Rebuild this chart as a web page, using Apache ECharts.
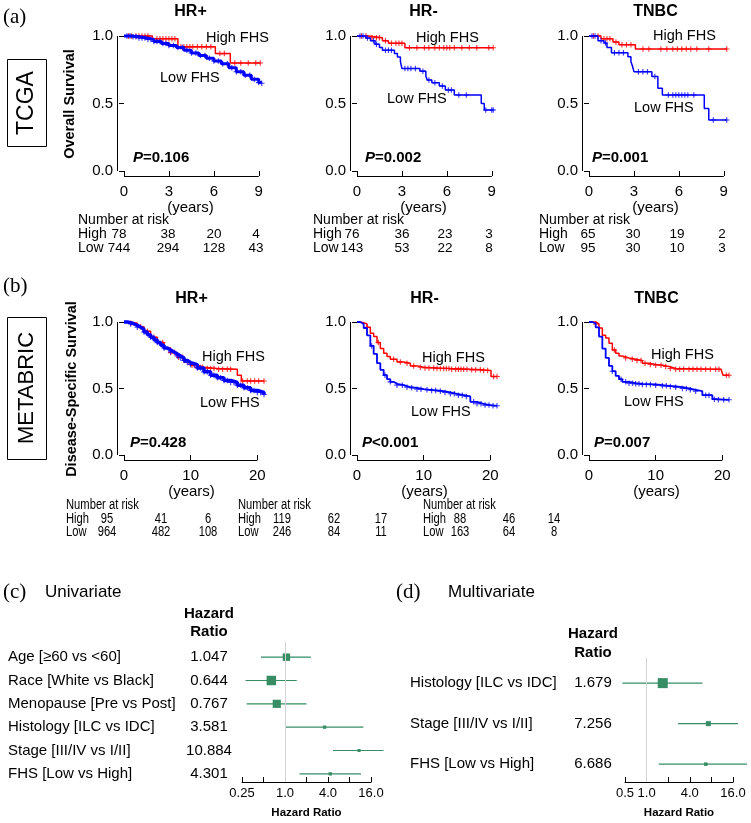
<!DOCTYPE html>
<html>
<head>
<meta charset="utf-8">
<script src="https://cdn.jsdelivr.net/npm/echarts@6/dist/echarts.min.js"></script>
<style>
  html, body { margin: 0; padding: 0; background: #fff; }
  #chart { width: 751px; height: 823px; }
</style>
</head>
<body>
<div id="chart"></div>
<script>
const SANS = '"Liberation Sans", Arial, Helvetica, sans-serif';
const SERIF = '"Liberation Serif", "Times New Roman", serif';
const RED = '#ff0000';
const BLUE = '#0000ff';
const GREEN = '#378d64';

// (a) TCGA overall survival, KM steps as [years, survival]
const tcgaPosHigh = [[0,1],[1.9,0.98],[3.6,0.92],[6.1,0.87],[7.1,0.80],[9.1,0.80]];
const tcgaPosLow = [[0,1],[0.5,0.995],[1,0.985],[1.5,0.975],[2,0.96],[2.5,0.945],[3,0.93],[3.5,0.915],[4,0.895],[4.5,0.875],[5,0.855],[5.5,0.835],[6,0.815],[6.5,0.795],[7,0.765],[7.5,0.735],[8,0.71],[8.5,0.68],[9,0.655],[9.2,0.65]];
const tcgaNegHigh = [[0,1],[0.8,0.987],[1.7,0.965],[2.1,0.946],[3.2,0.913],[9.1,0.913]];
const tcgaNegLow = [[0,1],[0.6,0.985],[0.9,0.965],[1.2,0.94],[1.5,0.915],[1.7,0.895],[2.5,0.87],[2.7,0.845],[2.9,0.81],[3.0,0.76],[4.2,0.74],[4.6,0.70],[4.7,0.674],[5.0,0.654],[5.5,0.63],[5.9,0.60],[6.5,0.563],[8.3,0.50],[8.5,0.452],[9.1,0.452]];
const tcgaTnHigh = [[0,1],[0.8,0.98],[1.6,0.955],[2.0,0.935],[3.1,0.904],[9.2,0.904]];
const tcgaTnLow = [[0,1],[0.6,0.966],[1.0,0.948],[1.2,0.916],[1.5,0.876],[2.6,0.847],[2.8,0.81],[2.9,0.78],[3.0,0.736],[4.2,0.70],[4.6,0.613],[4.9,0.563],[7.7,0.464],[8.0,0.378],[9.2,0.378]];

// censoring times (years)
const tcgaPosHighCens = [0.3,0.5,0.8,1.0,1.2,1.4,1.6,2.2,2.4,2.6,2.8,3.0,3.2,3.4,3.8,4.0,4.2,4.4,4.6,4.9,5.2,5.5,5.8,6.4,6.7,7.4,7.8,8.3,8.8,9.1];
const tcgaPosLowCens = [0.2,0.4,0.6,0.8,1.0,1.2,1.4,1.6,1.8,2.0,2.2,2.4,2.6,2.8,3.0,3.3,3.6,3.9,4.2,4.5,4.8,5.1,5.4,5.7,6.0,6.3,6.6,6.9,7.2,7.5,7.8,8.1,8.4,8.7,9.0,9.2];
const tcgaNegHighCens = [0.3,0.6,1.0,1.3,1.5,1.9,2.3,2.6,2.8,3.0,3.5,4.0,4.5,4.8,5.2,5.5,5.8,6.0,6.2,6.5,7.0,7.5,8.0,8.8,9.1];
const tcgaNegLowCens = [0.2,0.4,0.7,1.1,1.3,1.9,2.1,2.3,3.2,3.4,3.6,3.9,4.4,4.8,5.2,5.7,6.1,6.3,6.8,7.3,8.6,9.0,9.1];
const tcgaTnHighCens = [0.3,0.6,1.0,1.2,1.4,1.8,2.2,2.5,2.8,3.6,4.0,4.8,5.2,5.6,5.9,6.2,6.5,6.8,7.2,8.0,9.2];
const tcgaTnLowCens = [0.2,0.4,0.8,1.1,1.7,2.0,2.3,3.3,3.6,3.9,4.4,5.3,5.6,5.8,6.0,6.2,6.4,6.6,7.0,8.3,9.2];

// (b) METABRIC disease-specific survival
const metaPosHigh = [[0,1],[1,0.99],[2,0.965],[3,0.93],[4,0.885],[5,0.845],[6,0.805],[7,0.77],[8,0.735],[9,0.70],[10,0.675],[11,0.66],[12,0.65],[14,0.645],[17,0.60],[17.6,0.556],[21,0.556]];
const metaPosLow = [[0,1],[0.5,0.995],[1,0.985],[1.5,0.975],[2,0.96],[2.5,0.945],[3,0.925],[3.5,0.905],[4,0.885],[4.5,0.865],[5,0.845],[5.5,0.825],[6,0.805],[6.5,0.79],[7,0.775],[7.5,0.76],[8,0.745],[8.5,0.73],[9,0.71],[9.5,0.695],[10,0.68],[11,0.655],[12,0.625],[13,0.6],[14,0.58],[15,0.56],[16,0.545],[17,0.525],[18,0.505],[19,0.485],[20,0.47],[21,0.455]];
const metaNegHigh = [[0,1],[0.5,0.995],[1,0.985],[1.5,0.96],[2,0.915],[2.5,0.89],[3,0.845],[3.5,0.80],[4,0.765],[4.5,0.74],[5,0.72],[6,0.70],[7,0.69],[8,0.67],[9,0.66],[10,0.655],[12,0.65],[14,0.645],[17,0.64],[19,0.635],[20.1,0.59],[21,0.59]];
const metaNegLow = [[0,1],[0.5,0.985],[1,0.955],[1.5,0.90],[2,0.82],[2.5,0.76],[3,0.69],[3.5,0.64],[4,0.60],[4.5,0.57],[5,0.55],[5.5,0.535],[6,0.525],[7,0.51],[8,0.505],[9,0.495],[10,0.49],[11,0.485],[12,0.48],[13,0.47],[14,0.46],[15,0.45],[16,0.44],[17,0.40],[18,0.385],[19,0.375],[20,0.37],[21,0.37]];
const metaTnHigh = [[0,1],[1,0.985],[1.5,0.955],[2,0.90],[2.5,0.88],[3,0.84],[3.5,0.79],[4,0.765],[4.5,0.745],[5,0.73],[6,0.72],[7,0.71],[8,0.69],[9,0.68],[10,0.675],[11,0.665],[12,0.65],[13,0.645],[19.8,0.64],[20.1,0.60],[21,0.60]];
const metaTnLow = [[0,1],[0.5,0.99],[1,0.96],[1.5,0.89],[2,0.80],[2.5,0.73],[3,0.67],[3.5,0.63],[4,0.595],[4.5,0.57],[5,0.55],[6,0.54],[7,0.535],[8,0.53],[10,0.525],[11,0.52],[12,0.515],[13,0.51],[14,0.50],[15,0.49],[16,0.48],[17,0.45],[18.5,0.42],[19,0.415],[21,0.415]];

const metaPosHighCens = [1.0,2.5,3.5,4.5,5.8,7.0,7.6,8.2,8.8,9.6,10.2,10.6,11.0,11.4,11.8,12.5,13.0,13.5,14.2,14.8,15.5,16.0,17.8,18.5,19.0,19.6,20.2,21.0];
const metaPosLowCens = [1,2,3,4,5,6,7,8,8.5,9,9.5,10,10.5,11,11.5,12,12.5,13,13.5,14,14.5,15,15.5,16,16.5,17,17.5,18,18.5,19,19.5,20,20.5,21];
const metaNegHighCens = [1.5,3.2,5.5,6.5,7.5,8.5,9.5,10.2,10.8,11.5,12.0,12.5,13.0,13.4,13.8,14.2,14.8,15.2,15.6,16.0,16.5,17.2,17.8,18.5,19.0,19.6,20.5,21.0];
const metaNegLowCens = [2.2,4.2,5.0,6.0,6.8,7.5,8.2,9.0,9.6,10.5,11.2,11.8,12.5,13.2,14.0,14.6,15.2,15.8,16.4,17.5,18.0,18.6,19.2,19.8,20.4,21.0];
const metaTnHighCens = [1.0,3.8,5.5,6.5,7.2,7.8,8.4,9.2,10.0,10.8,11.5,12.2,13.0,13.6,14.2,15.0,15.6,16.2,16.8,17.5,18.2,19.0,19.5,20.6,21.0];
const metaTnLowCens = [3.5,4.8,5.5,6.0,6.5,7.0,7.5,8.0,8.6,9.2,10.0,11.0,11.6,12.2,13.0,14.0,14.6,15.2,16.0,17.5,18.0,18.8,19.4,20.2,21.0];

// numbers at risk
const tcgaRiskHigh = [[78,38,20,4],[76,36,23,3],[65,30,19,2]];
const tcgaRiskLow = [[744,294,128,43],[143,53,22,8],[95,30,10,3]];
const metaRiskHigh = [[95,41,6],[119,62,17],[88,46,14]];
const metaRiskLow = [[964,482,108],[246,84,11],[163,64,8]];
const pValues = ['=0.106','=0.002','=0.001','=0.428','<0.001','=0.007'];
const subtypes = ['HR+','HR-','TNBC'];

// (c) / (d) Cox models
const uniLabels = ['Age [\u226560 vs <60]','Race [White vs Black]','Menopause [Pre vs Post]','Histology [ILC vs IDC]','Stage [III/IV vs I/II]','FHS [Low vs High]'];
const uniHR = [1.047,0.644,0.767,3.581,10.884,4.301];
const uniLower = [0.46,0.28,0.29,1.0,4.7,1.6];
const uniUpper = [2.3,1.46,2.0,12.5,24,11.6];
const uniWeight = [0.78,1.0,0.86,0.35,0.32,0.35];
const multiLabels = ['Histology [ILC vs IDC]','Stage [III/IV vs I/II]','FHS [Low vs High]'];
const multiHR = [1.679,7.256,6.686];
const multiLower = [0.46,2.75,1.48];
const multiUpper = [6.0,18.8,25];
const multiWeight = [1.0,0.5,0.35];

// layout
const rowLayout = [
  {top: 32, height: 144, xMin: -0.467, xMax: 9.35, yMin: -0.037, yMax: 1.03, ticks: [0,3,6,9], width: 147, nameGap: 19, yName: 'Overall Survival', yGap: 40},
  {top: 318, height: 142, xMin: -1.05, xMax: 21.3, yMin: -0.0376, yMax: 1.03, ticks: [0,10,20], width: 149, nameGap: 21, yName: 'Disease-Specific Survival', yGap: 38}
];
const colLefts = [117, 350, 582];

const panels = [
  {row: 0, col: 0, high: tcgaPosHigh, low: tcgaPosLow, highCens: tcgaPosHighCens, lowCens: tcgaPosLowCens, lowWidth: 3},
  {row: 0, col: 1, high: tcgaNegHigh, low: tcgaNegLow, highCens: tcgaNegHighCens, lowCens: tcgaNegLowCens, lowWidth: 1.5},
  {row: 0, col: 2, high: tcgaTnHigh, low: tcgaTnLow, highCens: tcgaTnHighCens, lowCens: tcgaTnLowCens, lowWidth: 1.5},
  {row: 1, col: 0, high: metaPosHigh, low: metaPosLow, highCens: metaPosHighCens, lowCens: metaPosLowCens, lowWidth: 3.5},
  {row: 1, col: 1, high: metaNegHigh, low: metaNegLow, highCens: metaNegHighCens, lowCens: metaNegLowCens, lowWidth: 1.8},
  {row: 1, col: 2, high: metaTnHigh, low: metaTnLow, highCens: metaTnHighCens, lowCens: metaTnLowCens, lowWidth: 1.8}
];

const highLabelPos = [[206,38],[416,38],[653,36],[202,357],[422,358],[651,355]];
const lowLabelPos = [[160,78],[387,99],[634,108],[200,403],[411,412],[624,402]];
const pLabelPos = [[133,158],[365,158],[592,158],[130,443],[362,443],[594,443]];
const titleY = [12, 299];

const PLUS = 'path://M0,4H10V6H0Z M4,0H6V10H4Z';

function survAt(steps, t) {
  let s = steps[0][1];
  for (const [x, y] of steps) {
    if (x <= t) s = y; else break;
  }
  return s;
}

function txt(x, y, text, o) {
  o = o || {};
  return {
    type: 'text', x: x, y: y, rotation: o.rotation || 0, scaleX: o.scaleX || 1, silent: true,
    style: {
      text: text,
      font: (o.italic ? 'italic ' : '') + (o.bold ? 'bold ' : '') + (o.size || 15) + 'px ' + (o.family || SANS),
      fill: '#000',
      align: o.align || 'left',
      verticalAlign: 'middle',
      rich: o.rich
    }
  };
}

const grids = [], xAxes = [], yAxes = [], series = [];
const graphics = [];

panels.forEach((p, i) => {
  const L = rowLayout[p.row];
  grids.push({left: colLefts[p.col], top: L.top, width: L.width, height: L.height});
  xAxes.push({
    type: 'value', gridIndex: i, min: L.xMin, max: L.xMax,
    axisLine: {show: false}, splitLine: {show: false},
    axisTick: {show: true, customValues: L.ticks, length: 5, lineStyle: {color: '#000'}},
    axisLabel: {customValues: L.ticks, color: '#000', fontSize: 15, fontFamily: SANS, margin: 8},
    name: '(years)', nameLocation: 'middle', nameGap: L.nameGap,
    nameTextStyle: {color: '#000', fontSize: 15, fontFamily: SANS}
  });
  yAxes.push({
    type: 'value', gridIndex: i, min: L.yMin, max: L.yMax,
    axisLine: {show: false}, splitLine: {show: false},
    axisTick: {show: true, customValues: [0, 0.5, 1], length: 5, lineStyle: {color: '#000'}},
    axisLabel: {customValues: [0, 0.5, 1], formatter: v => v.toFixed(1), color: '#000', fontSize: 15, fontFamily: SANS, margin: 4},
    name: p.col === 0 ? L.yName : '', nameLocation: 'middle', nameGap: L.yGap, nameRotate: 90,
    nameTextStyle: {color: '#000', fontSize: 14.5, fontWeight: 'bold', fontFamily: SANS}
  });
  const lastTick = L.ticks[L.ticks.length - 1];
  series.push({
    type: 'line', xAxisIndex: i, yAxisIndex: i, data: p.high, step: 'end', showSymbol: false, silent: true, clip: false,
    lineStyle: {color: RED, width: 1.5}, z: 2,
    markLine: {
      silent: true, symbol: 'none', animation: false, label: {show: false},
      lineStyle: {color: '#000', width: 1, type: 'solid'},
      data: [
        [{coord: [L.xMin, 0]}, {coord: [L.xMin, 1]}],
        [{coord: [0, L.yMin]}, {coord: [lastTick, L.yMin]}]
      ]
    }
  });
  series.push({
    type: 'line', xAxisIndex: i, yAxisIndex: i, data: p.low, step: 'end', showSymbol: false, silent: true,
    lineStyle: {color: BLUE, width: p.lowWidth}, z: 3
  });
  series.push({
    type: 'scatter', xAxisIndex: i, yAxisIndex: i, silent: true, symbol: PLUS, symbolSize: 5.5,
    data: p.highCens.map(t => [t, survAt(p.high, t)]), itemStyle: {color: RED}, z: 2
  });
  series.push({
    type: 'scatter', xAxisIndex: i, yAxisIndex: i, silent: true, symbol: PLUS, symbolSize: 5.5,
    data: p.lowCens.map(t => [t, survAt(p.low, t)]), itemStyle: {color: BLUE}, z: 3
  });

  // panel texts
  const cx = colLefts[p.col] + L.width / 2;
  graphics.push(txt(cx, titleY[p.row], subtypes[p.col], {bold: true, size: 16, align: 'center'}));
  graphics.push(txt(highLabelPos[i][0], highLabelPos[i][1], 'High FHS', {size: 14.5}));
  graphics.push(txt(lowLabelPos[i][0], lowLabelPos[i][1], 'Low FHS', {size: 14.5}));
  graphics.push(txt(pLabelPos[i][0], pLabelPos[i][1], '{i|P}' + pValues[i], {
    bold: true, size: 15, rich: {i: {fontStyle: 'italic', fontWeight: 'bold', fontSize: 15, fontFamily: SANS}}
  }));
});

// risk tables
const riskColsA = [[119,168,214,256],[352,402,445,489],[588,633,677,722]];
const riskHeadA = [78, 313, 539];
const riskColsB = [[107,161,208],[282,334,381],[460,509,554]];
const riskHeadB = [66, 238, 423];
for (let c = 0; c < 3; c++) {
  graphics.push(txt(riskHeadA[c], 220, 'Number at risk', {size: 14}));
  graphics.push(txt(riskHeadA[c], 234, 'High', {size: 14}));
  graphics.push(txt(riskHeadA[c], 248, 'Low', {size: 14}));
  tcgaRiskHigh[c].forEach((n, k) => graphics.push(txt(riskColsA[c][k], 234, String(n), {size: 13.5, align: 'center'})));
  tcgaRiskLow[c].forEach((n, k) => graphics.push(txt(riskColsA[c][k], 248, String(n), {size: 13.5, align: 'center'})));
  const sx = 0.8;
  graphics.push(txt(riskHeadB[c], 505, 'Number at risk', {size: 14, scaleX: sx}));
  graphics.push(txt(riskHeadB[c], 519, 'High', {size: 14, scaleX: sx}));
  graphics.push(txt(riskHeadB[c], 532, 'Low', {size: 14, scaleX: sx}));
  metaRiskHigh[c].forEach((n, k) => graphics.push(txt(riskColsB[c][k], 519, String(n), {size: 14, align: 'center', scaleX: sx})));
  metaRiskLow[c].forEach((n, k) => graphics.push(txt(riskColsB[c][k], 532, String(n), {size: 14, align: 'center', scaleX: sx})));
}

// panel letters and cohort boxes
graphics.push(txt(3, 17, '(a)', {family: SERIF, size: 21}));
graphics.push(txt(3, 286, '(b)', {family: SERIF, size: 21}));
graphics.push(txt(3, 592, '(c)', {family: SERIF, size: 21}));
graphics.push(txt(396, 592, '(d)', {family: SERIF, size: 21}));
graphics.push({type: 'rect', silent: true, shape: {x: 7.5, y: 59.5, width: 39, height: 87}, style: {fill: 'none', stroke: '#000', lineWidth: 1}});
graphics.push(txt(27, 103, 'TCGA', {size: 23, align: 'center', rotation: Math.PI / 2}));
graphics.push({type: 'rect', silent: true, shape: {x: 7.5, y: 317.5, width: 39, height: 142}, style: {fill: 'none', stroke: '#000', lineWidth: 1}});
graphics.push(txt(27, 388, 'METABRIC', {size: 22, align: 'center', rotation: Math.PI / 2}));

graphics.push(txt(45, 592, 'Univariate', {size: 17}));
graphics.push(txt(448, 592, 'Multivariate', {size: 17}));
graphics.push(txt(209, 614, 'Hazard', {bold: true, align: 'center'}));
graphics.push(txt(209, 632, 'Ratio', {bold: true, align: 'center'}));
graphics.push(txt(593, 634, 'Hazard', {bold: true, align: 'center'}));
graphics.push(txt(593, 653, 'Ratio', {bold: true, align: 'center'}));

// forest plots
const forestSets = [
  {hr: uniHR, lo: uniLower, hi: uniUpper, w: uniWeight, labels: uniLabels, grid: {left: 242, top: 642, width: 129, height: 140},
   min: 0.25, yMin: 0.35, yMax: 6.35, box: 9.5, shown: {0.25: '0.25', 1: '1.0', 4: '4.0', 16: '16.0'}, labelX: 8, valueX: 209},
  {hr: multiHR, lo: multiLower, hi: multiUpper, w: multiWeight, labels: multiLabels, grid: {left: 625, top: 658, width: 108, height: 124},
   min: 0.5, yMin: 0.38, yMax: 3.44, box: 10, shown: {0.5: '0.5', 1: '1.0', 4: '4.0', 16: '16.0'}, labelX: 410, valueX: 593}
];

forestSets.forEach((f, j) => {
  const gi = 6 + j;
  grids.push(f.grid);
  xAxes.push({
    type: 'log', logBase: 2, gridIndex: gi, min: f.min, max: 16, splitNumber: 6,
    axisLine: {show: true, lineStyle: {color: '#000', width: 1}}, splitLine: {show: false},
    axisTick: {show: true, inside: true, length: 5, lineStyle: {color: '#000'}},
    axisLabel: {color: '#000', fontSize: 13, fontFamily: SANS, margin: 5, formatter: v => f.shown[v] || ''},
    name: 'Hazard Ratio', nameLocation: 'middle', nameGap: 25,
    nameTextStyle: {color: '#000', fontSize: 11.5, fontWeight: 'bold', fontFamily: SANS}
  });
  yAxes.push({type: 'value', gridIndex: gi, min: f.yMin, max: f.yMax, inverse: true, show: false});
  series.push({
    type: 'line', xAxisIndex: gi, yAxisIndex: gi, data: [], silent: true,
    markLine: {silent: true, symbol: 'none', animation: false, label: {show: false},
      lineStyle: {color: '#d4d4d4', width: 1, type: 'solid'}, data: [{xAxis: 1}]}
  });
  series.push({
    type: 'custom', xAxisIndex: gi, yAxisIndex: gi, silent: true, clip: false,
    encode: {x: [0, 1, 2], y: 3},
    data: f.hr.map((v, k) => [v, f.lo[k], f.hi[k], k + 1, f.w[k]]),
    renderItem: (params, api) => {
      const row = api.value(3);
      const c = api.coord([api.value(0), row]);
      const l = api.coord([api.value(1), row]);
      const h = api.coord([api.value(2), row]);
      const s = api.value(4) * f.box;
      return {type: 'group', children: [
        {type: 'line', shape: {x1: l[0], y1: c[1], x2: h[0], y2: c[1]}, style: {stroke: GREEN, lineWidth: 1.2}},
        {type: 'rect', shape: {x: c[0] - s / 2, y: c[1] - s / 2, width: s, height: s}, style: {fill: GREEN}}
      ]};
    }
  });
});

const chart = echarts.init(document.getElementById('chart'));
chart.setOption({
  animation: false,
  textStyle: {fontFamily: SANS},
  grid: grids,
  xAxis: xAxes,
  yAxis: yAxes,
  series: series
});

// row labels of the forest plots placed on their rows
forestSets.forEach((f, j) => {
  const gi = 6 + j;
  f.labels.forEach((lab, k) => {
    const y = chart.convertToPixel({xAxisIndex: gi, yAxisIndex: gi}, [1, k + 1])[1];
    graphics.push(txt(f.labelX, y, lab));
    graphics.push(txt(f.valueX, y, f.hr[k].toFixed(3), {align: 'center'}));
  });
});
chart.setOption({graphic: graphics});
</script>
</body>
</html>
